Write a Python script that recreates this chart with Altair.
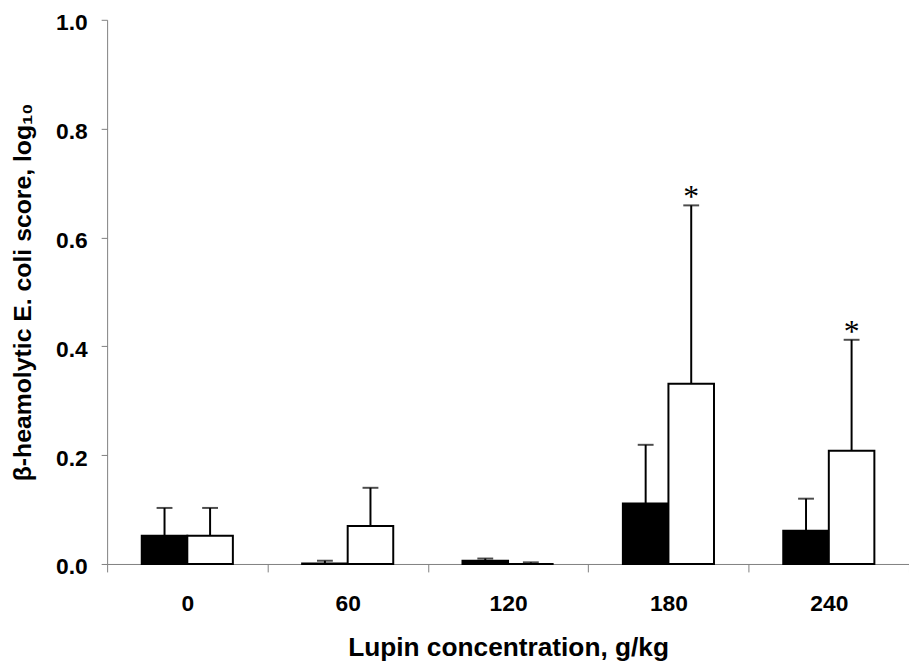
import altair as alt
import pandas as pd

categories = ["0", "60", "120", "180", "240"]
groups = ["control", "lupin"]
# black bars
control_mean = [0.052, 0.001, 0.006, 0.111, 0.061]
control_top = [0.103, 0.006, 0.010, 0.219, 0.120]
# white bars
lupin_mean = [0.052, 0.070, 0.000, 0.331, 0.208]
lupin_top = [0.103, 0.140, 0.003, 0.659, 0.412]
lupin_star = ["", "", "", "*", "*"]
control_star = ["", "", "", "", ""]
y_ticks = [0.0, 0.2, 0.4, 0.6, 0.8, 1.0]

rows = []
for i, c in enumerate(categories):
    rows.append(dict(cat=c, group="control", mean=control_mean[i], top=control_top[i], star=control_star[i]))
    rows.append(dict(cat=c, group="lupin", mean=lupin_mean[i], top=lupin_top[i], star=lupin_star[i]))
df = pd.DataFrame(rows)

GRAY = "#808080"
FONT = "Liberation Sans"

x_enc = alt.X(
    "cat:N", sort=categories,
    scale=alt.Scale(paddingInner=0, paddingOuter=0),
    axis=alt.Axis(
        title="Lupin concentration, g/kg", labelAngle=0, tickBand="extent",
        domainColor=GRAY, tickColor=GRAY, tickSize=8, domainWidth=1, tickWidth=1,
        labelFont=FONT, labelFontWeight="bold", labelFontSize=23, labelColor="black",
        labelBaseline="alphabetic", labelPadding=39,
        titleFont=FONT, titleFontWeight="bold", titleFontSize=26.5, titleColor="black",
        titleBaseline="alphabetic", titleY=92,
    ),
)
xoff_enc = alt.XOffset("group:N", sort=groups, scale=alt.Scale(paddingInner=0, paddingOuter=0.76))

base = alt.Chart(df).encode(x=x_enc, xOffset=xoff_enc)

y_scale = alt.Scale(domain=[0, 1])
bars = base.mark_bar(stroke="black", strokeWidth=2).encode(
    y=alt.Y(
        "mean:Q", scale=y_scale,
        axis=alt.Axis(
            title="β-heamolytic E. coli score, log₁₀", values=y_ticks, format=".1f", grid=False,
            domainColor=GRAY, tickColor=GRAY, tickSize=6, domainWidth=1, tickWidth=1,
            labelFont=FONT, labelFontWeight="bold", labelFontSize=23, labelColor="black",
            labelPadding=14, labelOffset=3,
            titleFont=FONT, titleFontWeight="bold", titleFontSize=25, titleColor="black",
            titleX=-77, titleY=274.5, titleAngle=-90, titleAlign="center", titleBaseline="alphabetic",
        ),
    ),
    fill=alt.Fill("group:N", scale=alt.Scale(domain=groups, range=["black", "white"]), legend=None),
)

err = base.mark_rule(color="black", strokeWidth=2).encode(
    y=alt.Y("mean:Q", scale=y_scale), y2="top:Q"
)
cap = base.mark_tick(color="black", size=16, thickness=2).encode(
    y=alt.Y("top:Q", scale=y_scale)
)
stars = base.mark_text(font="Liberation Serif", fontSize=32, dy=-8, baseline="middle", color="black").encode(
    y=alt.Y("top:Q", scale=y_scale), text="star:N"
)

chart = alt.layer(err, cap, bars, stars).properties(
    width=809, height=549,
    autosize=alt.AutoSizeParams(type="none"),
    padding={"left": 100, "top": 9, "right": 0, "bottom": 100},
).configure_view(stroke=None)

chart.save("out.html", embed_options={"renderer": "svg", "actions": False})
